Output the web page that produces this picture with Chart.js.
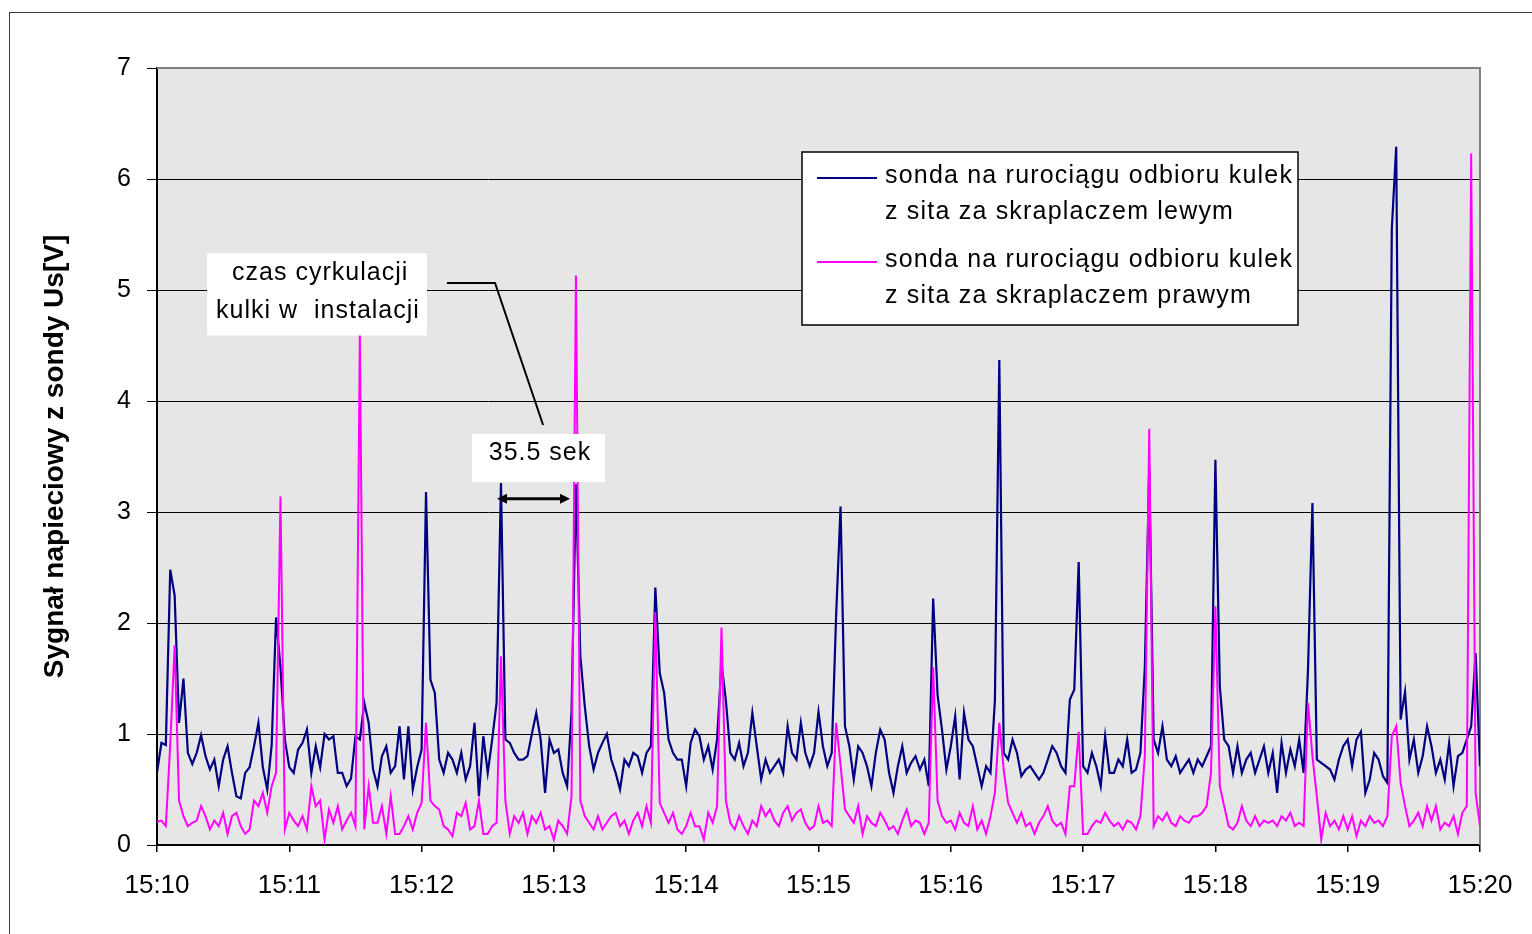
<!DOCTYPE html>
<html lang="pl">
<head>
<meta charset="utf-8">
<title>Sygnał napięciowy z sond</title>
<script src="https://cdn.jsdelivr.net/npm/chart.js@4.4.1/dist/chart.umd.min.js"></script>
<style>
  html, body { margin: 0; padding: 0; background: #fff; }
  canvas { display: block; }
</style>
</head>
<body>
<canvas id="signalChart" width="1532" height="934"></canvas>
<script>
// czas liczony w sekundach od 15:10, próbka co 2 s
const startHour = 15;
const startMinute = 10;
const sampleStep = 2;

// sonda - skraplacz lewy
const leftProbe = [
  0.65, 0.92, 0.90, 2.48, 2.25, 1.10, 1.50, 0.83, 0.73, 0.83,
  0.99, 0.80, 0.68, 0.77, 0.53, 0.77, 0.89, 0.65, 0.44, 0.42,
  0.65, 0.70, 0.89, 1.10, 0.70, 0.50, 0.90, 2.05, 1.60, 0.95,
  0.70, 0.65, 0.86, 0.92, 1.04, 0.65, 0.89, 0.70, 1.00, 0.95,
  0.98, 0.65, 0.65, 0.53, 0.60, 0.98, 0.95, 1.28, 1.10, 0.68,
  0.53, 0.80, 0.89, 0.65, 0.71, 1.07, 0.59, 1.07, 0.50, 0.70,
  0.86, 3.18, 1.49, 1.37, 0.77, 0.65, 0.83, 0.77, 0.65, 0.83,
  0.59, 0.71, 1.10, 0.44, 0.98, 0.65, 0.95, 1.28, 3.26, 0.95,
  0.92, 0.83, 0.77, 0.77, 0.80, 1.00, 1.19, 0.95, 0.47, 0.95,
  0.83, 0.86, 0.65, 0.53, 1.20, 3.25, 1.70, 1.25, 0.89, 0.68,
  0.83, 0.92, 1.00, 0.77, 0.65, 0.50, 0.77, 0.71, 0.83, 0.80,
  0.65, 0.83, 0.89, 2.32, 1.55, 1.37, 0.95, 0.83, 0.77, 0.77,
  0.53, 0.92, 1.04, 0.98, 0.77, 0.89, 0.68, 0.95, 1.64, 1.30,
  0.83, 0.77, 0.92, 0.71, 0.83, 1.19, 0.89, 0.59, 0.77, 0.65,
  0.71, 0.77, 0.65, 1.07, 0.83, 0.77, 1.10, 0.83, 0.71, 0.83,
  1.20, 0.89, 0.71, 0.83, 2.07, 3.05, 1.07, 0.89, 0.59, 0.89,
  0.83, 0.71, 0.53, 0.83, 1.04, 0.95, 0.65, 0.47, 0.71, 0.89,
  0.65, 0.74, 0.80, 0.68, 0.77, 0.53, 2.22, 1.35, 1.04, 0.68,
  0.89, 1.16, 0.59, 1.19, 0.95, 0.89, 0.71, 0.53, 0.71, 0.65,
  1.30, 4.37, 0.83, 0.77, 0.95, 0.83, 0.62, 0.68, 0.71, 0.65,
  0.59, 0.65, 0.77, 0.89, 0.83, 0.71, 0.65, 1.31, 1.40, 2.55,
  0.71, 0.65, 0.83, 0.71, 0.53, 0.98, 0.65, 0.65, 0.77, 0.71,
  0.95, 0.65, 0.68, 0.83, 1.60, 3.40, 0.95, 0.83, 1.07, 0.77,
  0.71, 0.80, 0.65, 0.71, 0.77, 0.65, 0.77, 0.71, 0.80, 0.89,
  3.47, 1.43, 0.95, 0.89, 0.65, 0.89, 0.65, 0.77, 0.83, 0.65,
  0.77, 0.89, 0.65, 0.83, 0.47, 0.92, 0.65, 0.86, 0.71, 0.95,
  0.65, 1.58, 3.08, 0.77, 0.74, 0.71, 0.68, 0.59, 0.77, 0.89,
  0.95, 0.71, 0.95, 1.02, 0.47, 0.59, 0.83, 0.77, 0.62, 0.56,
  5.55, 6.29, 1.13, 1.38, 0.77, 0.95, 0.65, 0.80, 1.07, 0.89,
  0.65, 0.77, 0.59, 0.92, 0.53, 0.80, 0.83, 0.95, 1.07, 1.73,
  0.71
];

// sonda - skraplacz prawy
const rightProbe = [
  0.21, 0.22, 0.17, 0.90, 1.80, 0.40, 0.26, 0.17, 0.20, 0.22,
  0.35, 0.26, 0.14, 0.22, 0.17, 0.29, 0.10, 0.26, 0.29, 0.17,
  0.10, 0.14, 0.40, 0.35, 0.47, 0.29, 0.53, 0.65, 3.14, 0.14,
  0.29, 0.22, 0.17, 0.26, 0.14, 0.53, 0.35, 0.40, 0.05, 0.32,
  0.20, 0.35, 0.14, 0.22, 0.29, 0.17, 4.60, 0.14, 0.53, 0.20,
  0.20, 0.35, 0.10, 0.44, 0.10, 0.10, 0.17, 0.26, 0.14, 0.29,
  0.38, 1.10, 0.40, 0.35, 0.32, 0.17, 0.14, 0.08, 0.29, 0.26,
  0.38, 0.14, 0.17, 0.40, 0.10, 0.10, 0.17, 0.20, 1.70, 0.40,
  0.10, 0.26, 0.20, 0.29, 0.10, 0.26, 0.20, 0.29, 0.14, 0.17,
  0.05, 0.22, 0.17, 0.10, 0.44, 5.13, 0.40, 0.26, 0.20, 0.14,
  0.26, 0.14, 0.20, 0.26, 0.29, 0.17, 0.22, 0.10, 0.22, 0.29,
  0.17, 0.35, 0.20, 2.10, 0.38, 0.29, 0.20, 0.29, 0.14, 0.10,
  0.17, 0.29, 0.17, 0.17, 0.05, 0.29, 0.20, 0.35, 1.96, 0.40,
  0.20, 0.14, 0.26, 0.17, 0.10, 0.22, 0.17, 0.35, 0.26, 0.32,
  0.22, 0.17, 0.29, 0.35, 0.22, 0.29, 0.32, 0.20, 0.14, 0.17,
  0.35, 0.20, 0.22, 0.17, 1.10, 0.72, 0.32, 0.26, 0.20, 0.35,
  0.10, 0.26, 0.20, 0.17, 0.29, 0.22, 0.14, 0.17, 0.10, 0.22,
  0.32, 0.17, 0.22, 0.20, 0.10, 0.20, 1.60, 0.40, 0.26, 0.20,
  0.22, 0.14, 0.29, 0.20, 0.17, 0.35, 0.14, 0.22, 0.10, 0.26,
  0.47, 1.10, 0.68, 0.38, 0.29, 0.20, 0.29, 0.17, 0.20, 0.10,
  0.20, 0.26, 0.35, 0.22, 0.17, 0.20, 0.10, 0.53, 0.53, 1.02,
  0.10, 0.10, 0.17, 0.22, 0.20, 0.29, 0.22, 0.17, 0.20, 0.14,
  0.22, 0.20, 0.14, 0.26, 0.80, 3.75, 0.17, 0.26, 0.22, 0.29,
  0.20, 0.17, 0.26, 0.22, 0.20, 0.26, 0.26, 0.29, 0.35, 0.65,
  2.15, 0.53, 0.35, 0.17, 0.14, 0.20, 0.35, 0.22, 0.17, 0.26,
  0.17, 0.22, 0.20, 0.22, 0.17, 0.26, 0.22, 0.29, 0.17, 0.20,
  0.17, 1.28, 0.80, 0.44, 0.05, 0.29, 0.17, 0.22, 0.14, 0.26,
  0.14, 0.26, 0.08, 0.22, 0.17, 0.26, 0.20, 0.22, 0.17, 0.26,
  0.98, 1.07, 0.56, 0.35, 0.17, 0.22, 0.29, 0.17, 0.35, 0.22,
  0.35, 0.14, 0.20, 0.17, 0.26, 0.10, 0.29, 0.35, 6.23, 0.47,
  0.17
];

const seriesNames = [
  ['sonda na rurociągu odbioru kulek', 'z sita za skraplaczem lewym'],
  ['sonda na rurociągu odbioru kulek', 'z sita za skraplaczem prawym']
];
const seriesColors = ['#000080', '#ff00ff'];

const toPoints = values => values.map((v, i) => ({ x: i * sampleStep, y: v }));

const textFont = '25px "Liberation Sans", Arial, sans-serif';

// tło, ramka i szare pole wykresu
const backdrop = {
  id: 'backdrop',
  beforeDraw(chart) {
    const { ctx, chartArea: a } = chart;
    ctx.save();
    ctx.fillStyle = '#ffffff';
    ctx.fillRect(0, 0, chart.width, chart.height);
    ctx.strokeStyle = '#3a3a3a';
    ctx.lineWidth = 1;
    ctx.strokeRect(9.5, 12.5, chart.width + 20, chart.height + 20);
    ctx.fillStyle = '#e6e6e6';
    ctx.fillRect(a.left, a.top, a.width, a.height);
    ctx.restore();
  },
  beforeDatasetsDraw(chart) {
    const { ctx, chartArea: a } = chart;
    ctx.save();
    ctx.strokeStyle = '#808080';
    ctx.lineWidth = 2;
    ctx.beginPath();
    ctx.moveTo(a.left, a.top);
    ctx.lineTo(a.right, a.top);
    ctx.lineTo(a.right, a.bottom);
    ctx.stroke();
    ctx.restore();
  }
};

// opisy na wykresie (w jednostkach osi: s, V)
const notes = {
  id: 'notes',
  afterDatasetsDraw(chart) {
    const { ctx } = chart;
    const xs = chart.scales.x, ys = chart.scales.y;
    const px = t => xs.getPixelForValue(t);
    const py = v => ys.getPixelForValue(v);
    ctx.save();
    ctx.font = textFont;
    ctx.letterSpacing = '1px';
    ctx.textAlign = 'center';
    ctx.textBaseline = 'middle';

    // ramka "czas cyrkulacji"
    ctx.fillStyle = '#fff';
    ctx.fillRect(px(22.7), py(5.33), px(122.4) - px(22.7), py(4.59) - py(5.33));
    ctx.fillStyle = '#000';
    ctx.fillText('czas cyrkulacji', px(74), py(5.15));
    ctx.fillText('kulki w  instalacji', px(73), py(4.81));

    // linia odniesienia
    ctx.strokeStyle = '#000';
    ctx.lineWidth = 2;
    ctx.beginPath();
    ctx.moveTo(px(131.5), py(5.063));
    ctx.lineTo(px(153.3), py(5.063));
    ctx.lineTo(px(175.1), py(3.784));
    ctx.stroke();

    // ramka "35.5 sek"
    ctx.fillStyle = '#fff';
    ctx.fillRect(px(142.9), py(3.703), px(203.2) - px(142.9), py(3.27) - py(3.703));
    ctx.fillStyle = '#000';
    ctx.fillText('35.5 sek', px(173.7), py(3.532));

    // strzałka dwustronna
    const ax0 = px(154.2), ax1 = px(187.3), ay = py(3.12);
    ctx.lineWidth = 3;
    ctx.beginPath();
    ctx.moveTo(ax0 + 6, ay);
    ctx.lineTo(ax1 - 6, ay);
    ctx.stroke();
    ctx.beginPath();
    ctx.moveTo(ax0, ay); ctx.lineTo(ax0 + 10, ay - 5); ctx.lineTo(ax0 + 10, ay + 5); ctx.closePath();
    ctx.moveTo(ax1, ay); ctx.lineTo(ax1 - 10, ay - 5); ctx.lineTo(ax1 - 10, ay + 5); ctx.closePath();
    ctx.fill();
    ctx.restore();
  }
};

// legenda w ramce
const boxLegend = {
  id: 'boxLegend',
  afterDraw(chart) {
    const { ctx, chartArea: a } = chart;
    const left = a.left + 645, top = a.top + 84, w = 496, h = 173;
    ctx.save();
    ctx.fillStyle = '#fff';
    ctx.fillRect(left, top, w, h);
    ctx.strokeStyle = '#000';
    ctx.lineWidth = 1.5;
    ctx.strokeRect(left, top, w, h);
    ctx.font = textFont;
    ctx.letterSpacing = '1.2px';
    ctx.textAlign = 'left';
    ctx.textBaseline = 'middle';
    chart.data.datasets.forEach((ds, k) => {
      const y0 = top + 26 + k * 84;
      ctx.strokeStyle = ds.borderColor;
      ctx.lineWidth = 2;
      ctx.beginPath();
      ctx.moveTo(left + 15, y0);
      ctx.lineTo(left + 75, y0);
      ctx.stroke();
      ctx.fillStyle = '#000';
      ds.label.forEach((line, j) => ctx.fillText(line, left + 83, y0 - 2 + j * 36));
    });
    ctx.restore();
  }
};

new Chart(document.getElementById('signalChart'), {
  type: 'line',
  data: {
    datasets: [
      {
        label: seriesNames[0],
        data: toPoints(leftProbe),
        borderColor: seriesColors[0],
        borderWidth: 2.2,
        pointRadius: 0,
        tension: 0,
        order: 2
      },
      {
        label: seriesNames[1],
        data: toPoints(rightProbe),
        borderColor: seriesColors[1],
        borderWidth: 2,
        pointRadius: 0,
        tension: 0,
        order: 1
      }
    ]
  },
  options: {
    responsive: false,
    animation: false,
    layout: { padding: { top: 68, right: 52, left: 10, bottom: 0 } },
    plugins: {
      legend: { display: false },
      tooltip: { enabled: false }
    },
    scales: {
      x: {
        type: 'linear',
        min: 0,
        max: 600,
        afterFit: s => { s.height = 89; },
        ticks: {
          stepSize: 60,
          autoSkip: false,
          maxRotation: 0,
          padding: 18,
          color: '#000',
          font: { family: '"Liberation Sans", Arial', size: 26 },
          callback: v => startHour + ':' + String(startMinute + v / 60).padStart(2, '0')
        },
        grid: { drawOnChartArea: false, tickLength: 7, color: '#000', lineWidth: 1.5 },
        border: { color: '#000', width: 2 }
      },
      y: {
        min: 0,
        max: 7,
        afterFit: s => { s.width = 147; },
        ticks: {
          stepSize: 1,
          padding: 16,
          color: '#000',
          font: { family: '"Liberation Sans", Arial', size: 25 }
        },
        grid: {
          tickLength: 10,
          color: ctx => (ctx.tick && ctx.tick.value === 7 ? '#808080' : '#000'),
          tickColor: '#000',
          lineWidth: 1
        },
        border: { color: '#000', width: 2 },
        title: {
          display: true,
          text: 'Sygnał napieciowy z sondy Us[V]',
          color: '#000',
          font: { family: '"Liberation Sans", Arial', size: 28, weight: 'bold' },
          padding: { top: 28, bottom: 0 }
        }
      }
    }
  },
  plugins: [backdrop, notes, boxLegend]
});
</script>
</body>
</html>
